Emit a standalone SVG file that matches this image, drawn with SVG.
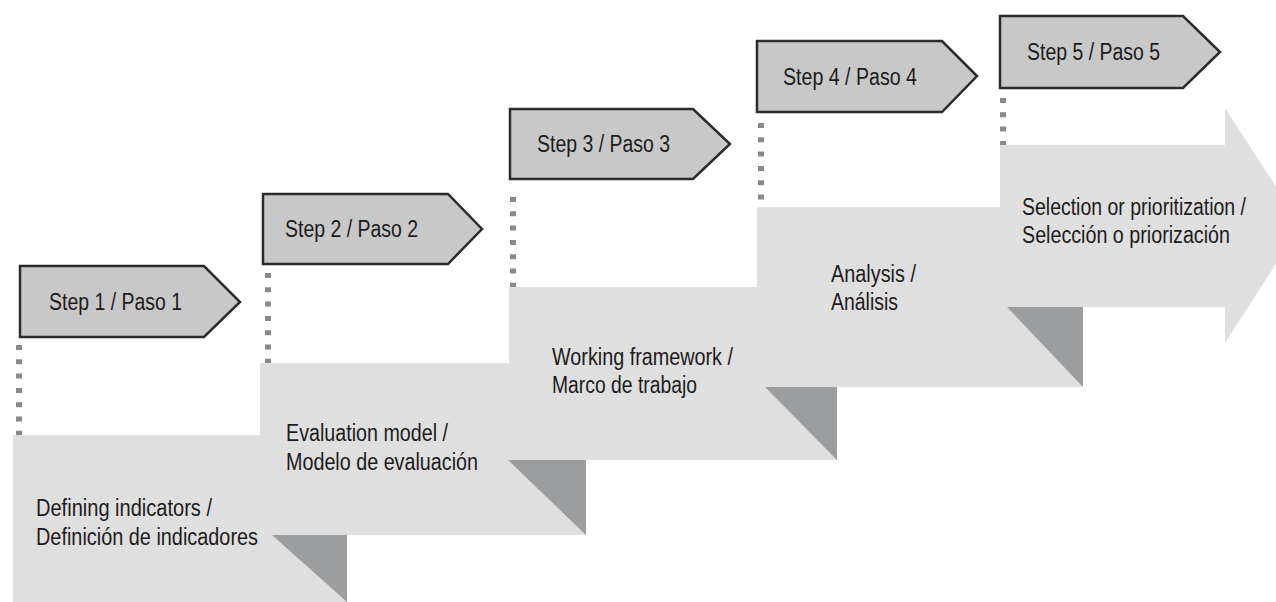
<svg xmlns="http://www.w3.org/2000/svg" width="1276" height="602" viewBox="0 0 1276 602">
  <style>
    .block { fill: #dfdfdf; }
    .fold { fill: #9c9d9f; }
    .tag { fill: #c8c8c8; stroke: #2b2b2b; stroke-width: 2.5; stroke-linejoin: miter; }
    .dots { stroke: #8a8a8a; stroke-width: 6; stroke-dasharray: 5 9.3; fill: none; }
    text { font-family: "Liberation Sans", Arial, sans-serif; font-size: 23.5px; fill: #1e1b1c; }
  </style>
  <rect width="1276" height="602" fill="#ffffff"/>

  <g id="connectors">
    <line class="dots" x1="19" y1="345" x2="19" y2="436"/>
    <line class="dots" x1="268" y1="273" x2="268" y2="364"/>
    <line class="dots" x1="513" y1="197" x2="513" y2="288"/>
    <line class="dots" x1="761" y1="123" x2="761" y2="200"/>
    <line class="dots" x1="1003" y1="98" x2="1003" y2="146"/>
  </g>

  <g id="stage-1">
    <rect class="block" x="13" y="435" width="334" height="167"/>
    <polygon class="fold" points="272,535 347,535 347,602"/>
    <text x="36" y="516" textLength="176" lengthAdjust="spacingAndGlyphs">Defining indicators /</text>
    <text x="36" y="545" textLength="222" lengthAdjust="spacingAndGlyphs">Definición de indicadores</text>
  </g>

  <g id="stage-2">
    <rect class="block" x="260" y="363" width="326" height="172"/>
    <polygon class="fold" points="508,460 586,460 586,535"/>
    <text x="286" y="441" textLength="162" lengthAdjust="spacingAndGlyphs">Evaluation model /</text>
    <text x="286" y="470" textLength="192" lengthAdjust="spacingAndGlyphs">Modelo de evaluación</text>
  </g>

  <g id="stage-3">
    <rect class="block" x="509" y="287" width="328" height="173"/>
    <polygon class="fold" points="764,386 837,386 837,460"/>
    <text x="552" y="365" textLength="181" lengthAdjust="spacingAndGlyphs">Working framework /</text>
    <text x="552" y="393" textLength="145" lengthAdjust="spacingAndGlyphs">Marco de trabajo</text>
  </g>

  <g id="stage-4">
    <rect class="block" x="757" y="207" width="326" height="180"/>
    <polygon class="fold" points="1007,307 1083,307 1083,387"/>
    <text x="831" y="282" textLength="85" lengthAdjust="spacingAndGlyphs">Analysis /</text>
    <text x="831" y="310" textLength="67" lengthAdjust="spacingAndGlyphs">Análisis</text>
  </g>

  <g id="stage-5">
    <polygon class="block" points="1000,145 1225,145 1225,108 1301,225 1225,343 1225,307 1000,307"/>
    <text x="1022" y="215" textLength="224" lengthAdjust="spacingAndGlyphs">Selection or prioritization /</text>
    <text x="1022" y="243" textLength="208" lengthAdjust="spacingAndGlyphs">Selección o priorización</text>
  </g>

  <g id="step-1">
    <polygon class="tag" points="20,266 204,266 240,302 204,337 20,337"/>
    <text x="49" y="310" textLength="133" lengthAdjust="spacingAndGlyphs">Step 1 / Paso 1</text>
  </g>
  <g id="step-2">
    <polygon class="tag" points="263,194 448,194 482,229 448,264 263,264"/>
    <text x="285" y="237" textLength="133" lengthAdjust="spacingAndGlyphs">Step 2 / Paso 2</text>
  </g>
  <g id="step-3">
    <polygon class="tag" points="510,109 693,109 730,144 693,179 510,179"/>
    <text x="537" y="152" textLength="133" lengthAdjust="spacingAndGlyphs">Step 3 / Paso 3</text>
  </g>
  <g id="step-4">
    <polygon class="tag" points="757,41 942,41 977,76 942,112 757,112"/>
    <text x="783" y="85" textLength="134" lengthAdjust="spacingAndGlyphs">Step 4 / Paso 4</text>
  </g>
  <g id="step-5">
    <polygon class="tag" points="1000,16 1183,16 1220,52 1183,88 1000,88"/>
    <text x="1027" y="60" textLength="133" lengthAdjust="spacingAndGlyphs">Step 5 / Paso 5</text>
  </g>
</svg>
